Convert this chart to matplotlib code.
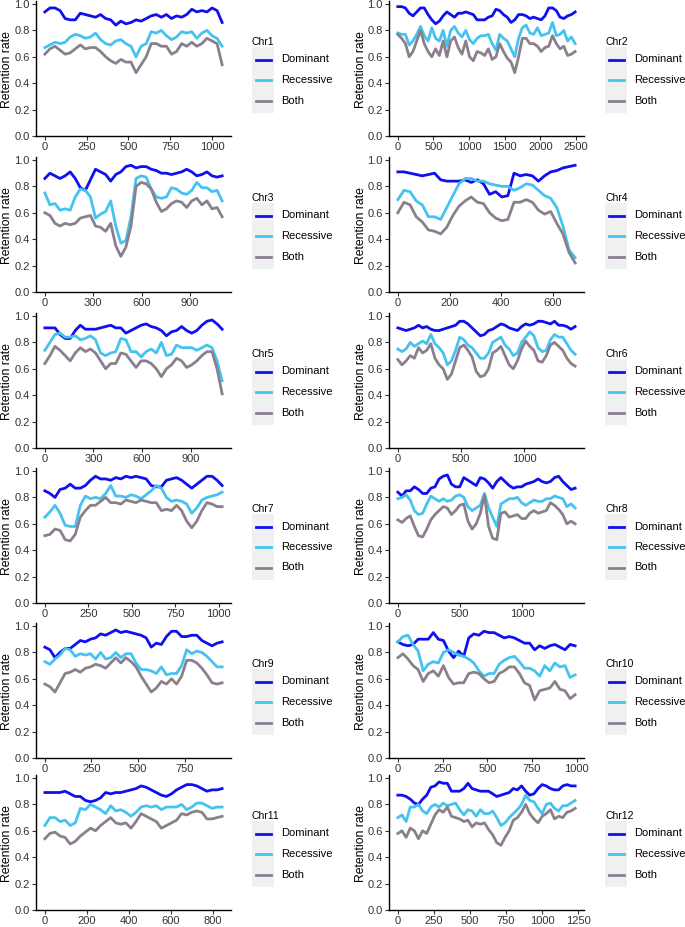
import numpy as np
import matplotlib
matplotlib.use('Agg')
import matplotlib.pyplot as plt
from matplotlib.lines import Line2D
from matplotlib.patches import Rectangle

plt.rcParams['font.family'] = ['Liberation Sans', 'DejaVu Sans']

# ---- data ----
names = ['Chr1', 'Chr2', 'Chr3', 'Chr4', 'Chr5', 'Chr6',
         'Chr7', 'Chr8', 'Chr9', 'Chr10', 'Chr11', 'Chr12']
lengths = [1060, 2490, 1100, 686, 1094, 1404, 1019, 1423, 951, 991, 844, 1230]
tick_step = [250, 500, 300, 200, 300, 500, 250, 500, 250, 250, 200, 250]
series_names = ['Dominant', 'Recessive', 'Both']

chr1_dom = [0.94,0.97,0.97,0.95,0.89,0.88,0.88,0.93,0.92,0.91,0.90,0.92,0.89,0.88,0.84,0.87,0.85,0.86,
            0.88,0.87,0.89,0.91,0.92,0.90,0.92,0.89,0.91,0.90,0.92,0.96,0.94,0.95,0.94,0.97,0.95,0.86]
chr1_rec = [0.67,0.69,0.71,0.70,0.71,0.75,0.77,0.76,0.74,0.75,0.78,0.73,0.70,0.69,0.72,0.73,0.70,0.68,
            0.60,0.68,0.70,0.79,0.78,0.80,0.76,0.73,0.75,0.79,0.78,0.79,0.74,0.78,0.80,0.76,0.74,0.68]
chr1_both = [0.62,0.66,0.68,0.65,0.62,0.63,0.66,0.69,0.66,0.67,0.67,0.64,0.60,0.57,0.55,0.58,0.56,0.56,
             0.48,0.54,0.60,0.70,0.70,0.68,0.68,0.62,0.64,0.70,0.68,0.71,0.68,0.70,0.74,0.72,0.70,0.54]

chr2_dom = [0.98,0.98,0.97,0.93,0.91,0.94,0.97,0.97,0.92,0.88,0.85,0.87,0.91,0.94,0.92,0.90,0.93,0.93,
            0.94,0.93,0.92,0.88,0.88,0.88,0.90,0.91,0.96,0.95,0.92,0.90,0.86,0.88,0.92,0.92,0.91,0.89,
            0.90,0.89,0.88,0.91,0.97,0.97,0.95,0.90,0.89,0.91,0.92,0.94]
chr2_rec = [0.78,0.77,0.77,0.69,0.72,0.77,0.83,0.76,0.72,0.82,0.74,0.72,0.80,0.68,0.80,0.83,0.78,0.75,
            0.80,0.73,0.70,0.74,0.76,0.76,0.77,0.70,0.65,0.77,0.74,0.72,0.66,0.60,0.74,0.82,0.84,0.78,
            0.77,0.82,0.76,0.77,0.78,0.86,0.76,0.77,0.80,0.72,0.75,0.70]
chr2_both = [0.77,0.74,0.70,0.60,0.64,0.72,0.80,0.70,0.64,0.60,0.66,0.61,0.72,0.60,0.72,0.75,0.67,0.62,
             0.72,0.60,0.57,0.64,0.63,0.61,0.66,0.58,0.60,0.70,0.64,0.59,0.56,0.48,0.60,0.74,0.74,0.70,
             0.70,0.68,0.64,0.67,0.68,0.76,0.70,0.66,0.68,0.61,0.62,0.64]

chr3_dom = [0.86,0.90,0.88,0.86,0.88,0.91,0.86,0.79,0.77,0.85,0.93,0.91,0.89,0.84,0.89,0.91,0.95,0.96,
            0.94,0.95,0.95,0.93,0.92,0.90,0.90,0.89,0.90,0.91,0.93,0.91,0.88,0.89,0.91,0.88,0.87,0.88]
chr3_rec = [0.75,0.66,0.67,0.62,0.63,0.62,0.72,0.78,0.77,0.72,0.56,0.59,0.61,0.69,0.50,0.37,0.39,0.57,
            0.86,0.88,0.87,0.78,0.72,0.71,0.72,0.79,0.78,0.75,0.74,0.77,0.83,0.79,0.79,0.76,0.77,0.69]
chr3_both = [0.60,0.58,0.52,0.50,0.52,0.51,0.52,0.56,0.57,0.58,0.50,0.49,0.46,0.52,0.35,0.27,0.34,0.50,
             0.80,0.83,0.82,0.78,0.68,0.61,0.63,0.67,0.69,0.68,0.64,0.69,0.71,0.66,0.69,0.63,0.64,0.57]

chr4_dom = [0.91,0.91,0.90,0.89,0.88,0.89,0.90,0.85,0.84,0.84,0.84,0.85,0.83,0.85,0.82,0.74,0.76,0.72,
            0.73,0.90,0.88,0.89,0.88,0.84,0.88,0.91,0.92,0.94,0.95,0.96]
chr4_rec = [0.70,0.77,0.76,0.69,0.66,0.57,0.57,0.55,0.64,0.73,0.82,0.86,0.86,0.84,0.84,0.82,0.81,0.80,
            0.80,0.77,0.79,0.82,0.81,0.77,0.73,0.71,0.64,0.50,0.32,0.26]
chr4_both = [0.60,0.68,0.66,0.57,0.53,0.47,0.46,0.44,0.49,0.58,0.65,0.69,0.72,0.68,0.67,0.60,0.56,0.54,
             0.55,0.68,0.68,0.70,0.68,0.62,0.59,0.61,0.52,0.44,0.30,0.22]

chr5_dom = [0.91,0.91,0.91,0.86,0.83,0.83,0.89,0.93,0.90,0.90,0.90,0.91,0.92,0.93,0.91,0.91,0.87,0.89,
            0.91,0.93,0.94,0.92,0.91,0.89,0.85,0.88,0.89,0.92,0.89,0.87,0.89,0.93,0.96,0.97,0.94,0.90]
chr5_rec = [0.74,0.80,0.86,0.87,0.84,0.84,0.85,0.82,0.83,0.85,0.82,0.72,0.70,0.72,0.73,0.83,0.82,0.73,
            0.73,0.69,0.73,0.75,0.72,0.80,0.70,0.71,0.78,0.76,0.76,0.76,0.74,0.76,0.78,0.76,0.66,0.51]
chr5_both = [0.64,0.70,0.77,0.74,0.70,0.66,0.72,0.76,0.73,0.75,0.72,0.66,0.60,0.64,0.64,0.72,0.71,0.66,
             0.61,0.66,0.66,0.64,0.60,0.54,0.60,0.63,0.68,0.66,0.61,0.63,0.66,0.70,0.73,0.73,0.60,0.41]

chr6_dom = [0.91,0.90,0.89,0.90,0.91,0.93,0.91,0.92,0.90,0.89,0.89,0.90,0.91,0.92,0.93,0.96,0.96,0.94,
            0.91,0.88,0.85,0.86,0.89,0.90,0.92,0.94,0.93,0.91,0.90,0.89,0.92,0.94,0.93,0.94,0.96,0.96,
            0.95,0.94,0.96,0.93,0.93,0.92,0.90,0.92]
chr6_rec = [0.75,0.73,0.75,0.80,0.77,0.79,0.81,0.79,0.86,0.79,0.76,0.72,0.63,0.66,0.74,0.84,0.82,0.78,
            0.76,0.72,0.68,0.68,0.72,0.80,0.82,0.84,0.78,0.75,0.70,0.72,0.80,0.84,0.88,0.85,0.76,0.73,
            0.74,0.82,0.86,0.84,0.84,0.79,0.74,0.71]
chr6_both = [0.67,0.63,0.66,0.70,0.68,0.76,0.72,0.74,0.79,0.68,0.63,0.60,0.52,0.56,0.66,0.76,0.78,0.74,
             0.69,0.58,0.54,0.55,0.60,0.72,0.74,0.77,0.70,0.63,0.60,0.66,0.75,0.81,0.77,0.74,0.66,0.65,
             0.70,0.78,0.80,0.77,0.74,0.68,0.64,0.62]

chr7_dom = [0.85,0.83,0.80,0.86,0.87,0.90,0.87,0.87,0.89,0.93,0.96,0.94,0.94,0.93,0.95,0.94,0.96,0.95,
            0.96,0.95,0.94,0.89,0.88,0.88,0.93,0.94,0.95,0.93,0.90,0.87,0.90,0.93,0.96,0.96,0.93,0.89]
chr7_rec = [0.65,0.69,0.74,0.68,0.59,0.58,0.58,0.74,0.81,0.79,0.80,0.79,0.83,0.89,0.81,0.81,0.80,0.82,
            0.81,0.79,0.82,0.85,0.89,0.87,0.80,0.77,0.78,0.77,0.75,0.68,0.72,0.78,0.80,0.81,0.82,0.84]
chr7_both = [0.51,0.52,0.56,0.55,0.48,0.47,0.52,0.65,0.70,0.74,0.74,0.77,0.80,0.76,0.76,0.75,0.78,0.77,
             0.76,0.78,0.77,0.76,0.76,0.70,0.71,0.70,0.74,0.70,0.62,0.57,0.62,0.70,0.76,0.75,0.73,0.73]

chr8_dom = [0.84,0.81,0.85,0.85,0.88,0.86,0.83,0.83,0.87,0.88,0.94,0.96,0.97,0.90,0.88,0.88,0.95,0.93,
            0.91,0.89,0.95,0.94,0.91,0.87,0.92,0.95,0.92,0.89,0.87,0.88,0.88,0.90,0.91,0.92,0.94,0.92,
            0.91,0.92,0.95,0.96,0.92,0.89,0.86,0.87]
chr8_rec = [0.79,0.80,0.82,0.78,0.70,0.67,0.68,0.75,0.81,0.79,0.77,0.79,0.77,0.78,0.81,0.82,0.80,0.73,
            0.70,0.72,0.74,0.83,0.72,0.65,0.58,0.75,0.77,0.79,0.79,0.80,0.76,0.74,0.76,0.78,0.77,0.77,
            0.79,0.79,0.81,0.80,0.79,0.73,0.75,0.72]
chr8_both = [0.63,0.61,0.64,0.66,0.58,0.51,0.50,0.56,0.63,0.67,0.70,0.73,0.72,0.67,0.70,0.74,0.75,0.62,
             0.56,0.60,0.68,0.82,0.58,0.49,0.48,0.68,0.69,0.65,0.66,0.67,0.64,0.64,0.68,0.70,0.68,0.69,
             0.70,0.76,0.74,0.71,0.67,0.60,0.62,0.60]

chr9_dom = [0.84,0.82,0.76,0.80,0.83,0.83,0.86,0.89,0.88,0.90,0.91,0.94,0.93,0.95,0.97,0.95,0.96,0.95,
            0.94,0.93,0.91,0.84,0.87,0.86,0.92,0.96,0.96,0.92,0.92,0.93,0.93,0.89,0.87,0.85,0.87,0.88]
chr9_rec = [0.73,0.71,0.75,0.78,0.83,0.82,0.77,0.79,0.78,0.79,0.75,0.80,0.75,0.76,0.80,0.76,0.79,0.79,
            0.72,0.67,0.67,0.66,0.64,0.69,0.63,0.64,0.64,0.70,0.82,0.79,0.81,0.80,0.77,0.73,0.69,0.69]
chr9_both = [0.56,0.54,0.50,0.57,0.64,0.65,0.67,0.65,0.68,0.69,0.71,0.70,0.68,0.72,0.76,0.72,0.76,0.73,
             0.69,0.62,0.56,0.50,0.53,0.58,0.56,0.60,0.56,0.62,0.74,0.74,0.72,0.68,0.63,0.57,0.56,0.57]

chr10_dom = [0.88,0.86,0.85,0.86,0.90,0.90,0.90,0.95,0.90,0.89,0.81,0.76,0.81,0.77,0.91,0.94,0.93,0.96,
             0.95,0.95,0.93,0.91,0.92,0.91,0.89,0.87,0.87,0.82,0.85,0.83,0.85,0.86,0.84,0.82,0.86,0.85]
chr10_rec = [0.88,0.92,0.93,0.86,0.81,0.66,0.71,0.73,0.72,0.80,0.82,0.80,0.78,0.77,0.75,0.72,0.66,0.62,
             0.64,0.64,0.71,0.74,0.76,0.77,0.73,0.68,0.68,0.66,0.62,0.70,0.66,0.72,0.69,0.70,0.61,0.63]
chr10_both = [0.76,0.79,0.75,0.70,0.67,0.58,0.64,0.66,0.62,0.70,0.61,0.56,0.57,0.57,0.64,0.65,0.64,0.60,
              0.57,0.58,0.64,0.66,0.69,0.69,0.64,0.57,0.55,0.44,0.51,0.52,0.53,0.58,0.52,0.51,0.45,0.48]

chr11_dom = [0.89,0.89,0.89,0.89,0.90,0.88,0.86,0.86,0.83,0.82,0.83,0.85,0.89,0.88,0.89,0.89,0.90,0.91,
             0.92,0.94,0.93,0.91,0.89,0.87,0.86,0.88,0.91,0.93,0.95,0.95,0.94,0.92,0.90,0.91,0.91,0.92]
chr11_rec = [0.64,0.70,0.70,0.67,0.68,0.64,0.66,0.77,0.76,0.80,0.78,0.76,0.73,0.79,0.75,0.76,0.74,0.71,
             0.74,0.78,0.79,0.78,0.79,0.76,0.78,0.78,0.78,0.80,0.76,0.78,0.81,0.81,0.79,0.77,0.78,0.78]
chr11_both = [0.54,0.58,0.59,0.56,0.55,0.50,0.52,0.56,0.59,0.62,0.60,0.64,0.67,0.70,0.66,0.65,0.66,0.62,
              0.67,0.73,0.71,0.69,0.67,0.62,0.64,0.66,0.68,0.73,0.72,0.74,0.75,0.74,0.69,0.69,0.70,0.71]

chr12_dom = [0.87,0.87,0.86,0.84,0.81,0.80,0.84,0.87,0.93,0.94,0.97,0.96,0.96,0.90,0.90,0.90,0.92,0.96,
             0.92,0.91,0.90,0.90,0.90,0.88,0.86,0.87,0.88,0.89,0.92,0.91,0.94,0.90,0.87,0.88,0.92,0.95,
             0.94,0.92,0.91,0.91,0.94,0.95,0.94,0.94]
chr12_rec = [0.70,0.72,0.67,0.78,0.78,0.80,0.75,0.73,0.78,0.80,0.78,0.81,0.79,0.80,0.81,0.76,0.72,0.76,
             0.75,0.71,0.76,0.73,0.73,0.75,0.70,0.64,0.66,0.70,0.73,0.76,0.80,0.87,0.83,0.82,0.77,0.73,
             0.80,0.81,0.77,0.75,0.79,0.79,0.81,0.83]
chr12_both = [0.58,0.60,0.55,0.62,0.60,0.54,0.60,0.58,0.65,0.72,0.76,0.74,0.78,0.71,0.70,0.69,0.67,0.68,
              0.63,0.66,0.65,0.66,0.61,0.57,0.51,0.49,0.55,0.60,0.68,0.70,0.74,0.80,0.73,0.69,0.66,0.71,
              0.73,0.76,0.69,0.71,0.70,0.74,0.75,0.77]

dominant = [chr1_dom, chr2_dom, chr3_dom, chr4_dom, chr5_dom, chr6_dom,
            chr7_dom, chr8_dom, chr9_dom, chr10_dom, chr11_dom, chr12_dom]
recessive = [chr1_rec, chr2_rec, chr3_rec, chr4_rec, chr5_rec, chr6_rec,
             chr7_rec, chr8_rec, chr9_rec, chr10_rec, chr11_rec, chr12_rec]
both = [chr1_both, chr2_both, chr3_both, chr4_both, chr5_both, chr6_both,
        chr7_both, chr8_both, chr9_both, chr10_both, chr11_both, chr12_both]

colors = ['#0F0FF0', '#45C3F0', '#8B7F8E']

# ---- layout in pixels ----
W, H = 685, 927
col_left = [36, 389]
row_top = [4, 160, 316, 471, 626, 778]
axw, axh = 195, 132
ytop = 1.02

fig = plt.figure(figsize=(W / 100, H / 100), dpi=100)

def fx(x):
    return x / W

def fy(y):
    return 1 - y / H

for i, name in enumerate(names):
    r, c = divmod(i, 2)
    left, top = col_left[c], row_top[r]
    ax = fig.add_axes([fx(left), fy(top + axh), axw / W, axh * ytop / H])
    L = lengths[i]
    for vals, col in zip([dominant[i], recessive[i], both[i]], colors):
        x = np.linspace(0, L, len(vals))
        ax.plot(x, vals, color=col, lw=2.0, solid_joinstyle='round')
    ax.set_xlim(-0.05 * L, 1.05 * L)
    ax.set_ylim(0, ytop)
    ax.set_xticks(np.arange(0, 1.05 * L, tick_step[i]))
    ax.set_yticks([0, 0.2, 0.4, 0.6, 0.8, 1.0])
    ax.set_yticklabels(['0.0', '0.2', '0.4', '0.6', '0.8', '1.0'])
    for s in ['top', 'right']:
        ax.spines[s].set_visible(False)
    for s in ['left', 'bottom']:
        ax.spines[s].set_linewidth(1.0)
    ax.tick_params(length=3, width=0.8, labelsize=8, colors='#333333', pad=1.5)
    ax.set_ylabel('Retention rate', fontsize=8.8, color='black', va='center')
    ax.yaxis.set_label_coords(-28.5 / axw, 0.5 / ytop)

    # legend, drawn ggplot-style
    lx = left + axw + 21
    fig.text(fx(lx), fy(top + 38), name, fontsize=7.5, va='center', ha='left')
    fig.add_artist(Rectangle((fx(lx), fy(top + 109)), 22 / W, 66 / H,
                             transform=fig.transFigure, facecolor='#F0F0F0', edgecolor='none'))
    for k, (lab, col) in enumerate(zip(series_names, colors)):
        yy = top + 55.5 + 20.5 * k
        fig.add_artist(Line2D([fx(lx + 4), fx(lx + 19)], [fy(yy), fy(yy)],
                              transform=fig.transFigure, color=col, lw=2.0))
        fig.text(fx(lx + 29), fy(yy), lab, fontsize=8, va='center', ha='left')

fig.savefig('out.png', dpi=100)
